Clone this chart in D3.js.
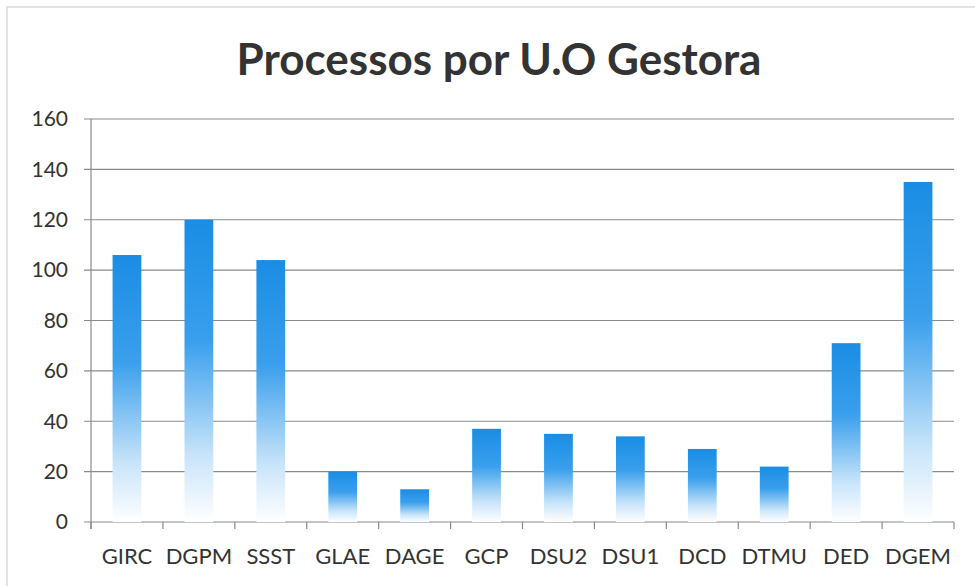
<!DOCTYPE html>
<html>
<head>
<meta charset="utf-8">
<script src="https://cdn.jsdelivr.net/npm/d3@7"></script>
<style>
  body { margin: 0; background: #fff; }
  text { font-family: Lato, "Open Sans", sans-serif; fill: #333; }
</style>
</head>
<body>
<svg id="chart" width="975" height="586"></svg>
<script>
const categories = ['GIRC', 'DGPM', 'SSST', 'GLAE', 'DAGE', 'GCP', 'DSU2', 'DSU1', 'DCD', 'DTMU', 'DED', 'DGEM']
const values = [106, 120, 104, 20, 13, 37, 35, 34, 29, 22, 71, 135]
const yTicks = [0, 20, 40, 60, 80, 100, 120, 140, 160]

const svg = d3.select('#chart')
const margin = { left: 91, right: 21, top: 119, bottom: 64 }
const width = 975, height = 586

// outer frame
svg.append('rect')
    .attr('x', 7).attr('y', 7)
    .attr('width', 975).attr('height', 600)
    .attr('fill', 'none')
    .attr('stroke', '#c8c8c8')

const x = d3.scaleBand()
    .domain(categories)
    .range([margin.left, width - margin.right])
    .paddingInner(0.6)
    .paddingOuter(0.3)

const y = d3.scaleLinear()
    .domain([0, 160])
    .range([height - margin.bottom, margin.top])

// gradient per bar
const grad = svg.append('defs').append('linearGradient')
    .attr('id', 'barGrad')
    .attr('x1', 0).attr('y1', 0).attr('x2', 0).attr('y2', 1)
grad.append('stop').attr('offset', '0%').attr('stop-color', '#1a8de4')
grad.append('stop').attr('offset', '40%').attr('stop-color', '#3a9fec')
grad.append('stop').attr('offset', '78%').attr('stop-color', '#c8e4f9')
grad.append('stop').attr('offset', '100%').attr('stop-color', '#ffffff')

// gridlines
svg.append('g')
    .selectAll('line')
    .data(yTicks)
    .enter()
    .append('line')
    .attr('x1', margin.left - 7)
    .attr('x2', width - margin.right)
    .attr('y1', d => y(d))
    .attr('y2', d => y(d))
    .attr('stroke', '#8a8a8a')
    .attr('stroke-width', 1.2)

// y axis line
svg.append('line')
    .attr('x1', margin.left).attr('x2', margin.left)
    .attr('y1', y(160)).attr('y2', y(0) + 7)
    .attr('stroke', '#8a8a8a')
    .attr('stroke-width', 1.2)

// x ticks between categories
const step = x.step()
svg.append('g')
    .selectAll('line')
    .data(d3.range(categories.length + 1))
    .enter()
    .append('line')
    .attr('x1', i => x(categories[0]) - step * x.paddingOuter() + i * step)
    .attr('x2', i => x(categories[0]) - step * x.paddingOuter() + i * step)
    .attr('y1', y(0))
    .attr('y2', y(0) + 7)
    .attr('stroke', '#8a8a8a')
    .attr('stroke-width', 1.2)

// bars
svg.append('g')
    .selectAll('rect')
    .data(categories)
    .enter()
    .append('rect')
    .attr('x', d => x(d))
    .attr('width', x.bandwidth())
    .attr('y', (d, i) => y(values[i]))
    .attr('height', (d, i) => y(0) - y(values[i]))
    .attr('fill', 'url(#barGrad)')

// y labels
svg.append('g')
    .selectAll('text')
    .data(yTicks)
    .enter()
    .append('text')
    .attr('x', 68)
    .attr('y', d => y(d))
    .attr('dy', '0.35em')
    .attr('text-anchor', 'end')
    .attr('font-size', 21)
    .text(d => d)

// x labels
svg.append('g')
    .selectAll('text')
    .data(categories)
    .enter()
    .append('text')
    .attr('x', d => x(d) + x.bandwidth() / 2)
    .attr('y', 564)
    .attr('text-anchor', 'middle')
    .attr('font-size', 22)
    .text(d => d)

// title
svg.append('text')
    .attr('x', 499)
    .attr('y', 75)
    .attr('text-anchor', 'middle')
    .attr('font-size', 44)
    .attr('font-weight', 'bold')
    .text('Processos por U.O Gestora')
</script>
</body>
</html>
